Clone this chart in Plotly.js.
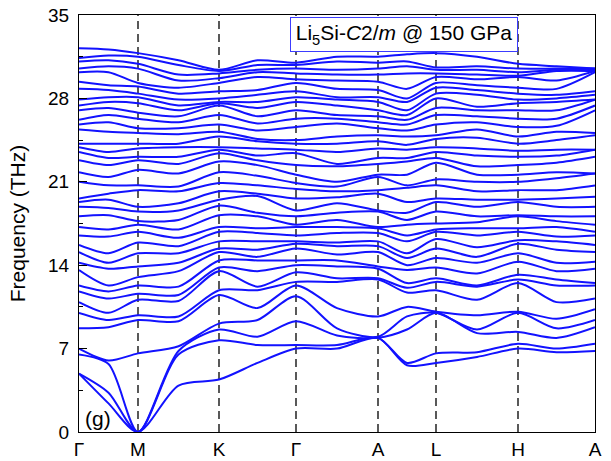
<!DOCTYPE html>
<html>
<head>
<meta charset="utf-8">
<script src="https://cdn.plot.ly/plotly-3.0.1.min.js"></script>
<style>html,body{margin:0;padding:0;background:#fff;}#chart{width:611px;height:461px;}</style>
</head>
<body>
<div id="chart"></div>
<script>
// High-symmetry path
const kLabels = ['Γ', 'M', 'K', 'Γ', 'A', 'L', 'H', 'A'];
const kTicks = [0, 59, 140, 217, 299, 357, 439, 516];
const yTicks = [0, 7, 14, 21, 28, 35];

// Phonon frequencies (THz), sorted, read at each high-symmetry point and segment midpoint
const colG0 = [4.9, 4.9, 6.5, 7.0, 8.7, 10.0, 10.9, 11.8, 12.3, 13.6, 14.2, 15.1, 15.7, 16.5, 17.2, 18.1, 18.9, 19.3, 19.6, 21.0, 21.8, 22.8, 23.5, 23.9, 24.2, 25.4, 25.8, 26.2, 27.0, 27.4, 27.9, 28.8, 29.4, 30.2, 30.5, 31.1, 31.4, 32.2];
const colGM = [2.4, 3.3, 5.7, 6.0, 8.8, 9.4, 10.0, 11.2, 11.8, 12.3, 13.7, 14.2, 15.0, 16.4, 17.0, 18.2, 18.8, 19.5, 20.0, 20.7, 21.4, 22.4, 23.0, 23.5, 24.2, 25.2, 26.0, 26.6, 27.2, 27.7, 28.1, 28.7, 29.1, 30.2, 30.7, 31.2, 31.6, 32.1];
const colM = [0, 0, 0, 6.6, 9.4, 9.8, 11.1, 11.6, 12.3, 13.0, 13.9, 15.0, 15.9, 16.8, 17.4, 17.7, 18.5, 18.9, 20.3, 20.7, 22.0, 22.8, 23.1, 23.8, 24.2, 25.1, 25.5, 26.3, 26.8, 27.6, 28.1, 28.4, 29.0, 29.3, 30.5, 30.9, 31.5, 31.8];
const colMK = [3.9, 6.5, 6.8, 7.2, 9.3, 9.7, 11.0, 11.5, 12.2, 13.5, 14.2, 15.0, 15.6, 16.3, 17.0, 17.8, 18.6, 19.2, 20.2, 20.6, 21.7, 22.5, 23.1, 23.9, 24.2, 25.0, 25.5, 26.0, 26.5, 27.0, 27.4, 27.9, 28.4, 28.9, 29.5, 30.0, 30.8, 31.2];
const colK = [4.4, 7.7, 8.6, 9.1, 11.5, 11.9, 13.5, 13.8, 14.4, 15.1, 15.4, 16.0, 16.8, 17.2, 18.2, 19.0, 19.5, 20.2, 20.9, 21.8, 22.7, 23.4, 23.7, 23.9, 24.8, 25.2, 25.8, 26.6, 27.4, 27.6, 27.7, 28.0, 28.6, 29.3, 29.7, 30.1, 30.3, 30.4];
const colKG = [5.8, 7.3, 8.0, 9.4, 10.4, 11.9, 12.2, 13.5, 14.4, 14.7, 15.3, 16.0, 16.7, 17.1, 18.1, 18.4, 19.8, 20.0, 20.7, 21.5, 22.4, 22.8, 23.2, 23.8, 24.4, 24.6, 25.3, 25.9, 26.5, 27.2, 27.7, 28.3, 28.7, 29.8, 30.2, 30.4, 30.8, 31.2];
const colG1 = [7.0, 7.3, 9.3, 11.4, 12.3, 12.6, 13.4, 14.0, 14.4, 15.4, 15.8, 16.0, 16.5, 17.2, 17.4, 18.1, 18.6, 19.6, 20.4, 20.9, 21.6, 22.4, 23.4, 23.7, 24.2, 24.5, 25.6, 26.3, 27.0, 27.7, 28.1, 28.6, 29.3, 29.6, 30.1, 30.5, 30.8, 31.0];
const colGA = [7.0, 7.3, 8.1, 8.7, 10.4, 12.6, 12.9, 13.9, 14.4, 14.9, 15.6, 15.9, 16.7, 17.2, 17.8, 18.4, 19.2, 19.7, 20.2, 20.6, 21.0, 22.3, 22.5, 23.5, 24.2, 24.8, 25.9, 26.3, 26.6, 27.4, 27.9, 28.1, 28.8, 29.5, 30.0, 30.4, 31.1, 31.5];
const colA1 = [7.9, 7.9, 7.9, 8.0, 9.7, 12.8, 12.9, 13.7, 13.9, 15.1, 15.6, 16.0, 16.7, 17.1, 17.2, 18.5, 18.6, 20.0, 20.3, 21.4, 21.6, 22.5, 23.0, 23.8, 24.4, 24.9, 25.5, 26.0, 26.5, 27.0, 27.7, 28.1, 28.7, 29.4, 30.0, 30.5, 31.0, 31.5];
const colAL = [5.6, 5.8, 8.6, 9.7, 10.5, 11.7, 12.1, 12.5, 13.6, 14.0, 14.6, 15.0, 16.0, 16.5, 17.4, 17.8, 18.4, 19.3, 20.5, 20.7, 21.6, 22.7, 23.0, 23.7, 24.1, 24.8, 25.3, 25.8, 26.2, 26.6, 27.0, 27.7, 28.0, 28.8, 30.1, 30.7, 31.1, 31.7];
const colL = [5.8, 6.6, 10.0, 10.0, 10.1, 11.9, 12.6, 12.9, 13.8, 14.6, 15.4, 16.2, 16.8, 17.0, 17.5, 18.5, 19.3, 19.6, 20.7, 21.2, 22.6, 23.0, 23.5, 23.9, 24.6, 24.9, 25.8, 26.6, 27.2, 28.0, 28.4, 28.9, 29.3, 29.8, 30.1, 30.4, 30.6, 31.8];
const colLH = [6.3, 6.7, 8.3, 8.6, 9.8, 11.1, 12.2, 12.3, 13.3, 14.2, 14.7, 15.5, 16.5, 17.1, 17.6, 18.1, 18.9, 19.5, 20.2, 21.0, 21.6, 22.3, 23.2, 23.8, 24.7, 25.4, 26.0, 26.5, 27.0, 27.3, 28.3, 28.7, 29.1, 29.6, 30.0, 30.4, 30.7, 31.5];
const colH = [7.0, 7.4, 8.4, 10.0, 10.1, 12.5, 12.8, 13.2, 14.3, 15.0, 15.8, 16.1, 16.8, 17.1, 18.1, 18.2, 19.3, 19.5, 20.3, 21.0, 21.6, 22.4, 23.1, 23.6, 24.2, 24.8, 25.6, 26.3, 27.0, 27.6, 27.9, 28.4, 28.9, 29.8, 29.9, 30.2, 30.5, 30.9];
const colHA = [6.7, 7.0, 7.9, 8.7, 9.5, 10.9, 12.3, 12.8, 13.5, 14.2, 15.3, 16.0, 16.4, 17.2, 17.7, 18.1, 18.9, 19.6, 20.3, 21.3, 21.8, 22.6, 23.2, 23.7, 24.5, 25.2, 25.7, 26.3, 27.0, 27.7, 28.0, 28.3, 28.8, 29.5, 30.3, 30.4, 30.5, 30.7];
const colA2 = [6.8, 7.4, 8.8, 9.4, 10.3, 11.2, 12.3, 12.5, 13.7, 14.3, 15.1, 15.7, 16.5, 16.8, 17.4, 18.1, 18.9, 19.75, 20.7, 21.7, 21.7, 23.1, 23.7, 23.7, 24.9, 25.1, 27.0, 27.4, 27.9, 27.9, 28.3, 28.6, 30.2, 30.3, 30.3, 30.4, 30.5, 30.5];

const freqCols = [colG0, colGM, colM, colMK, colK, colKG, colG1, colGA, colA1, colAL, colL, colLH, colH, colHA, colA2];

// x positions: each high-symmetry point and the midpoint of each segment
const xCol = [];
kTicks.forEach((t, i) => {
  xCol.push(t);
  if (i < kTicks.length - 1) xCol.push((t + kTicks[i + 1]) / 2);
});

const nBands = colG0.length;
const traces = [];
for (let b = 0; b < nBands; b++) {
  traces.push({
    x: xCol,
    y: freqCols.map(c => c[b]),
    type: 'scatter',
    mode: 'lines',
    line: {color: '#1212ff', width: 2, shape: 'spline', smoothing: 0.8},
    hoverinfo: 'skip',
    showlegend: false
  });
}

const FONT = 'Liberation Sans, Arial, sans-serif';
const shapes = kTicks.slice(1, -1).map(t => ({
  type: 'line', xref: 'x', yref: 'paper', x0: t, x1: t, y0: 0, y1: 1,
  line: {color: '#000', width: 1.3, dash: '8px,5px'}, layer: 'below'
}));

const layout = {
  width: 611, height: 461,
  margin: {l: 79, r: 16, t: 15, b: 29, pad: 0},
  paper_bgcolor: '#fff', plot_bgcolor: '#fff',
  font: {family: FONT, color: '#000', size: 19},
  xaxis: {
    range: [kTicks[0], kTicks[kTicks.length - 1]],
    tickmode: 'array', tickvals: kTicks, ticktext: kLabels,
    showgrid: false, zeroline: false, showline: true, mirror: true,
    linecolor: '#000', linewidth: 1, ticks: '',
    tickfont: {family: FONT, size: 19, color: '#000'}
  },
  yaxis: {
    range: [0, 35],
    tickmode: 'array', tickvals: yTicks,
    ticks: 'inside', ticklen: 8, tickwidth: 1, tickcolor: '#000',
    minor: {ticks: 'inside', ticklen: 4, tickwidth: 1, tickcolor: '#000', dtick: 3.5, tick0: 0, showgrid: false},
    showgrid: false, zeroline: false, showline: true, mirror: true,
    linecolor: '#000', linewidth: 1,
    ticklabelstandoff: 5,
    tickfont: {family: FONT, size: 19, color: '#000'},
    title: {text: 'Frequency (THz)', font: {family: FONT, size: 21, color: '#000'}, standoff: 16}
  },
  shapes: shapes,
  annotations: [
    {
      xref: 'paper', yref: 'paper', x: (290 - 79) / 516, y: (432 - 17) / 417,
      xanchor: 'left', yanchor: 'top', showarrow: false,
      text: 'Li<sub>5</sub>Si-<i>C</i>2/<i>m</i> @ 150 GPa',
      font: {family: FONT, size: 21, color: '#000'},
      bgcolor: '#fff', bordercolor: '#3c3cff', borderwidth: 1, borderpad: 2,
      width: 222, height: 29, align: 'center'
    },
    {
      xref: 'paper', yref: 'paper', x: (83 - 79) / 516, y: (432 - 418) / 417,
      xanchor: 'left', yanchor: 'middle', showarrow: false,
      text: '(g)', font: {family: FONT, size: 21, color: '#000'}
    }
  ]
};

Plotly.newPlot('chart', traces, layout, {staticPlot: true, displayModeBar: false});
</script>
</body>
</html>
